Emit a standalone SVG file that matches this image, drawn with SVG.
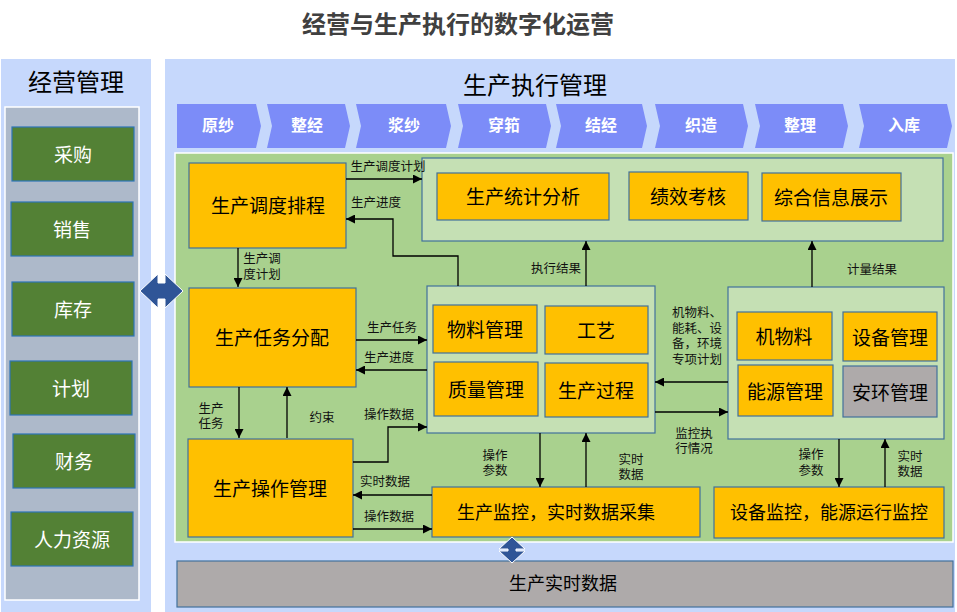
<svg xmlns="http://www.w3.org/2000/svg" width="957" height="612" viewBox="0 0 957 612">
<defs>
<style>
text{font-family:"Noto Sans CJK SC","Liberation Sans",sans-serif;dominant-baseline:central;text-anchor:middle;}
.panel{fill:#C6D8FC;}
.chev{fill:#7C8CF8;}
.chevt{fill:#fff;font-size:16px;font-weight:bold;}
.gbox{fill:#538135;stroke:#2E75B6;stroke-width:1.2;}
.gt{fill:#fff;font-size:19px;}
.obox{fill:#FFC000;stroke:#41719C;stroke-width:1.2;}
.gray{fill:#AEAAAA;stroke:#41719C;stroke-width:1.2;}
.cont{fill:#C5E0B4;stroke:#41719C;stroke-width:1.2;}
.bt{fill:#000;font-size:19px;}
.lt{fill:#111;font-size:12.5px;}
.ln{fill:none;stroke:#000;stroke-width:1.3;marker-end:url(#ah);}
.dbl{fill:#2F5597;stroke:#fff;stroke-width:1;}
</style>
<marker id="ah" viewBox="0 0 10 10" refX="10" refY="5" markerWidth="9" markerHeight="9" markerUnits="userSpaceOnUse" orient="auto">
<path d="M0,0 L10,5 L0,10 z" fill="#000"/>
</marker>
</defs>
<rect width="957" height="612" fill="#fff"/>
<text x="458" y="22" style="font-size:24px;font-weight:bold;fill:#404040">经营与生产执行的数字化运营</text>

<!-- left panel -->
<g id="left-panel">
<rect class="panel" x="1" y="59" width="150" height="553"/>
<text x="76" y="80" style="font-size:24px;fill:#000">经营管理</text>
<rect x="5" y="107" width="134" height="493" fill="#ADB9CA" stroke="#fff" stroke-width="1.5"/>
</g>
<g id="n-caigou"><rect class="gbox" x="12" y="127" width="122" height="54"/><text class="gt" x="73" y="153">采购</text></g>
<g id="n-xiaoshou"><rect class="gbox" x="11" y="202" width="122" height="54"/><text class="gt" x="72" y="228">销售</text></g>
<g id="n-kucun"><rect class="gbox" x="12" y="282" width="122" height="54"/><text class="gt" x="73" y="308">库存</text></g>
<g id="n-jihua"><rect class="gbox" x="10" y="361" width="122" height="54"/><text class="gt" x="71" y="387">计划</text></g>
<g id="n-caiwu"><rect class="gbox" x="13" y="434" width="122" height="54"/><text class="gt" x="74" y="460">财务</text></g>
<g id="n-renli"><rect class="gbox" x="11" y="512" width="122" height="54"/><text class="gt" x="72" y="538">人力资源</text></g>

<!-- right panel -->
<g id="right-panel">
<rect class="panel" x="165" y="59" width="790" height="553"/>
<text x="535" y="83" style="font-size:24px;fill:#000">生产执行管理</text>
</g>
<g id="process">
<polygon class="chev" points="177,104 256,104 261,126 256,148 177,148"/>
<text class="chevt" x="218" y="124">原纱</text>
<polygon class="chev" points="267,104 345,104 350,126 345,148 267,148 272,126"/>
<text class="chevt" x="307" y="124">整经</text>
<polygon class="chev" points="356,104 446,104 451,126 446,148 356,148 361,126"/>
<text class="chevt" x="404" y="124">浆纱</text>
<polygon class="chev" points="458,104 546,104 551,126 546,148 458,148 463,126"/>
<text class="chevt" x="504" y="124">穿筘</text>
<polygon class="chev" points="556,104 642,104 647,126 642,148 556,148 561,126"/>
<text class="chevt" x="601" y="124">结经</text>
<polygon class="chev" points="655,104 743,104 748,126 743,148 655,148 660,126"/>
<text class="chevt" x="701" y="124">织造</text>
<polygon class="chev" points="755,104 843,104 848,126 843,148 755,148 760,126"/>
<text class="chevt" x="800" y="124">整理</text>
<polygon class="chev" points="859,104 947,104 952,126 947,148 859,148 864,126"/>
<text class="chevt" x="904" y="124">入库</text>
</g>

<rect x="175" y="153" width="778" height="389" fill="#A9D18E" stroke="#fff" stroke-width="1.5"/>

<!-- containers -->
<g id="stats-container">
<rect class="cont" x="422" y="158" width="521" height="83"/>
</g>
<g id="n-tongji"><rect class="obox" x="437" y="173" width="172" height="47"/><text class="bt" x="523" y="195">生产统计分析</text></g>
<g id="n-jixiao"><rect class="obox" x="629" y="172" width="119" height="48"/><text class="bt" x="688" y="195">绩效考核</text></g>
<g id="n-zonghe"><rect class="obox" x="762" y="173" width="139" height="48"/><text class="bt" x="831" y="196">综合信息展示</text></g>

<g id="n-diaodu"><rect class="obox" x="189" y="163" width="157" height="85"/><text class="bt" x="268" y="204">生产调度排程</text></g>
<g id="n-renwu"><rect class="obox" x="189" y="288" width="167" height="99"/><text class="bt" x="272" y="336">生产任务分配</text></g>
<g id="n-caozuo"><rect class="obox" x="188" y="439" width="165" height="98"/><text class="bt" x="270" y="487">生产操作管理</text></g>

<g id="mid-container"><rect class="cont" x="427" y="286" width="228" height="147"/></g>
<g id="n-wuliao"><rect class="obox" x="433" y="305" width="104" height="48"/><text class="bt" x="485" y="328">物料管理</text></g>
<g id="n-gongyi"><rect class="obox" x="545" y="306" width="103" height="48"/><text class="bt" x="596" y="329">工艺</text></g>
<g id="n-zhiliang"><rect class="obox" x="434" y="362" width="104" height="54"/><text class="bt" x="486" y="388">质量管理</text></g>
<g id="n-guocheng"><rect class="obox" x="545" y="363" width="103" height="54"/><text class="bt" x="596" y="389">生产过程</text></g>

<g id="eq-container"><rect class="cont" x="728" y="287" width="216" height="152"/></g>
<g id="n-jiwuliao"><rect class="obox" x="737" y="312" width="95" height="48"/><text class="bt" x="784" y="335">机物料</text></g>
<g id="n-shebei"><rect class="obox" x="843" y="312" width="94" height="49"/><text class="bt" x="890" y="336">设备管理</text></g>
<g id="n-nengyuan"><rect class="obox" x="738" y="365" width="95" height="51"/><text class="bt" x="785" y="390">能源管理</text></g>
<g id="n-anhuan"><rect class="gray" x="843" y="366" width="94" height="51"/><text class="bt" x="890" y="391">安环管理</text></g>

<g id="n-jiankong"><rect class="obox" x="432" y="487" width="268" height="50"/><text class="bt" x="556" y="511" style="font-size:18px">生产监控，实时数据采集</text></g>
<g id="n-shebeijiankong"><rect class="obox" x="714" y="487" width="230" height="51"/><text class="bt" x="829" y="511" style="font-size:18px">设备监控，能源运行监控</text></g>

<g id="n-shishi"><rect class="gray" x="177" y="561" width="776" height="46"/><text class="bt" x="563" y="582" style="font-size:18px">生产实时数据</text></g>

<!-- connectors -->
<g id="connectors">
<path class="ln" d="M346,179 H422"/>
<path class="ln" d="M458,286 V256 H393 V219 H346"/>
<path class="ln" d="M586,286 V241"/>
<path class="ln" d="M238,248 V287"/>
<path class="ln" d="M356,340 H427"/>
<path class="ln" d="M427,370 H356"/>
<path class="ln" d="M239,387 V438"/>
<path class="ln" d="M287,438 V387"/>
<path class="ln" d="M353,462 H388 V427 H427"/>
<path class="ln" d="M432,495 H353"/>
<path class="ln" d="M353,529 H432"/>
<path class="ln" d="M540,433 V487"/>
<path class="ln" d="M586,487 V433"/>
<path class="ln" d="M812,287 V241"/>
<path class="ln" d="M728,382 H655"/>
<path class="ln" d="M655,412 H728"/>
<path class="ln" d="M839,439 V487"/>
<path class="ln" d="M885,487 V439"/>
<polygon class="dbl" points="140,291 158,274 158,283 165,283 165,274 183,291 165,308 165,299 158,299 158,308"/>
<polygon class="dbl" points="512,537 525,549 516,549 516,551 525,551 512,563 499,551 508,551 508,549 499,549"/>
</g>

<!-- connector labels -->
<g id="labels">
<text class="lt" x="388" y="165">生产调度计划</text>
<text class="lt" x="376" y="201">生产进度</text>
<text class="lt" x="556" y="267">执行结果</text>
<text class="lt" x="262" y="257">生产调<tspan x="262" dy="16">度计划</tspan></text>
<text class="lt" x="392" y="326">生产任务</text>
<text class="lt" x="389" y="356">生产进度</text>
<text class="lt" x="211" y="407">生产<tspan x="211" dy="15">任务</tspan></text>
<text class="lt" x="322" y="416">约束</text>
<text class="lt" x="389" y="413">操作数据</text>
<text class="lt" x="385" y="480">实时数据</text>
<text class="lt" x="389" y="515">操作数据</text>
<text class="lt" x="495" y="454">操作<tspan x="495" dy="15">参数</tspan></text>
<text class="lt" x="631" y="458">实时<tspan x="631" dy="15">数据</tspan></text>
<text class="lt" x="872" y="268">计量结果</text>
<text class="lt" x="697" y="311">机物料、<tspan x="697" dy="15.5">能耗、设</tspan><tspan x="697" dy="15.5">备，环境</tspan><tspan x="697" dy="15.5">专项计划</tspan></text>
<text class="lt" x="694" y="432">监控执<tspan x="694" dy="15">行情况</tspan></text>
<text class="lt" x="811" y="453">操作<tspan x="811" dy="16">参数</tspan></text>
<text class="lt" x="910" y="455">实时<tspan x="910" dy="15">数据</tspan></text>
</g>
</svg>
